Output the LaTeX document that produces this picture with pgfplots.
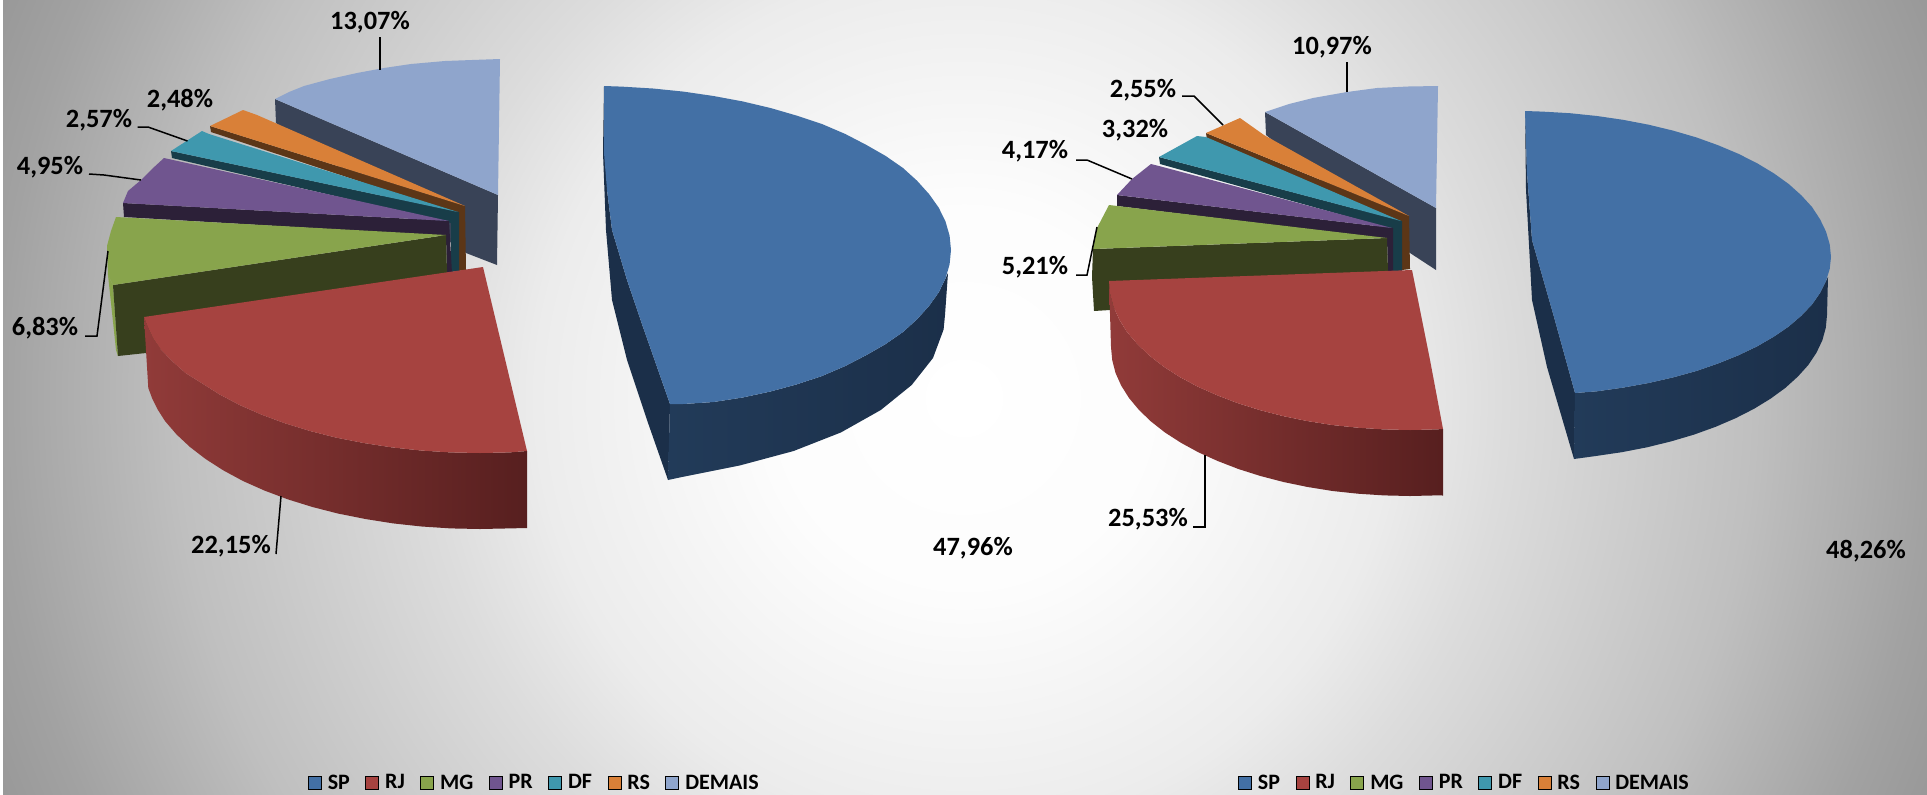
\documentclass[border=0pt]{standalone}
\usepackage{fontspec}
\setmainfont{Carlito}
\usepackage{pgfplots}
\pgfplotsset{compat=1.18}
\definecolor{cSP}{HTML}{4370A5}
\definecolor{cRJ}{HTML}{A64340}
\definecolor{cMG}{HTML}{88A44C}
\definecolor{cPR}{HTML}{70558F}
\definecolor{cDF}{HTML}{3F98AE}
\definecolor{cRS}{HTML}{D98038}
\definecolor{cDE}{HTML}{8FA5CC}
\definecolor{dSP}{HTML}{1B2F49}
\definecolor{dSPb}{HTML}{223B59}
\definecolor{dRJa}{HTML}{913B39}
\definecolor{dRJb}{HTML}{7A2F2E}
\definecolor{dRJc}{HTML}{571F1F}
\definecolor{dMG}{HTML}{373F1D}
\definecolor{dPR}{HTML}{2C2038}
\definecolor{dDF}{HTML}{183D49}
\definecolor{dRS}{HTML}{5C3617}
\definecolor{dDE}{HTML}{394357}
\pgfdeclareradialshading{bgshade}{\pgfpoint{0bp}{0bp}}{%
  color(0bp)=(white);
  color(4.5bp)=(white!99!black);
  color(9.75bp)=(white!92.5!black);
  color(12.2bp)=(white!86.5!black);
  color(17.95bp)=(white!75!black);
  color(21.95bp)=(white!63.5!black);
  color(25bp)=(white!57!black);
  color(50bp)=(white!57!black)}
\pgfplotsset{
  piepanel/.style={
    hide axis, scale only axis, clip=false, y dir=reverse,
    height=397pt, ymin=0, ymax=794,
    legend columns=7,
    legend cell align=left,
    legend style={draw=none, fill=none, font=\fontsize{11}{13}\selectfont\bfseries,
      anchor=west, inner sep=0pt, outer sep=0pt,
      nodes={inner sep=0pt, outer sep=0pt},
      /tikz/every odd column/.append style={column sep=3pt},
      /tikz/every even column/.append style={column sep=7.75pt}},
    legend image code/.code={\fill[##1] (0pt,-3.25pt) rectangle (6.5pt,3.25pt);},
  },
  top/.style={fill=#1, draw=none, forget plot},
  lead/.style={black, line width=0.75pt, forget plot},
}
\tikzset{lab/.style={font=\fontsize{13.2}{15}\selectfont\bfseries, inner sep=0pt}}
\begin{document}
\begin{tikzpicture}[x=1pt,y=1pt]
\path (0,0) rectangle (963.5,397);
\begin{scope}[overlay]
  \clip (1.5,0) rectangle (963.5,397);
  \shade[shading=bgshade] (482-550,198-550) rectangle (482+550,198+550);
\end{scope}

% ---------- left pie ----------
\begin{axis}[piepanel, at={(0,0)}, anchor=south west, width=482pt,
  xmin=0, xmax=964,
  legend style={at={(axis description cs:0.3195,0.0135)}}]
\addlegendimage{fill=cSP}\addlegendentry{SP}
\addlegendimage{fill=cRJ}\addlegendentry{RJ}
\addlegendimage{fill=cMG}\addlegendentry{MG}
\addlegendimage{fill=cPR}\addlegendentry{PR}
\addlegendimage{fill=cDF}\addlegendentry{DF}
\addlegendimage{fill=cRS}\addlegendentry{RS}
\addlegendimage{fill=cDE}\addlegendentry{DEMAIS}
% DEMAIS
\addplot[top=dDE] coordinates {(275,99)(498,195)(497,265)(466,253)(276,123)};
\addplot[top=cDE] coordinates {(275,99)(289,92)(304,86)(330,79)(357,73)(384,68)(411,64)(445,61)(472,60)(500,59)(498,195)};
% RS
\addplot[top=dRS] coordinates {(210,126)(465,206)(466,270)(458,271)(458,214)(211,132)};
\addplot[top=cRS] coordinates {(210,126)(243,110)(257,115)(465,206)};
% DF
\addplot[top=dDF] coordinates {(171,151)(172,158)(451,223)(451,272)(459,271)(459,212)};
\addplot[top=cDF] coordinates {(171,151)(202,131)(209,134)(458,212)};
% PR
\addplot[top=dPR] coordinates {(123,203)(124,217)(446,236)(447,273)(452,273)(449,221)};
\addplot[top=cPR] coordinates {(123,203)(128,191)(141,180)(152,169)(164,158)(449,221)};
% MG
\addplot[top=cMG] coordinates {(108,275)(113,285)(118,356)(116,350)};
\addplot[top=dMG] coordinates {(113,285)(446,235)(447,273)(146,353)(118,356)};
\addplot[top=cMG] coordinates {(116,217)(111,231)(107,246)(108,275)(113,285)(446,235)};
% RJ
\addplot[forget plot, draw=none, left color=dRJa, middle color=dRJb, right color=dRJc]
  coordinates {(144,317)(147.5,326)(153,338)(160.5,349)(172,361)(185.5,373)(201.5,383)(219.5,394.4)(239.6,405)(261.4,414.6)(285,423.3)(310,431)(336,437.6)(363.7,443)(392,447.4)(421,450.5)(450.4,452.4)(480,453)(509.6,452.4)(527,451)
   (527,528)(509,528.4)(480,529)(450.9,528.4)(421.7,526.5)(393.2,523.4)(365.4,519)(338.3,513.6)(312.5,507)(287.7,499.3)(264.6,490.6)(243,481)(223.4,470.4)(205.6,459)(190,447)(176.5,434.4)(165,421)(158,410)(152.4,399)(148.3,388)};
\addplot[top=cRJ] coordinates {(144,317)(147.5,326)(153,338)(160.5,349)(172,361)(185.5,373)(201.5,383)(219.5,394.4)(239.6,405)(261.4,414.6)(285,423.3)(310,431)(336,437.6)(363.7,443)(392,447.4)(421,450.5)(450.4,452.4)(480,453)(509.6,452.4)(527,451)(483,267)};
% SP
\addplot[top=dSP] coordinates {(604,86)(603,153)(606,230)(612,300)(627,360)(647,420)(668,480)(670,404)(643,327)(627,280)(612,230)(607,190)};
\addplot[forget plot, draw=none, left color=dSPb, right color=dSP]
  coordinates {(670,404)(683,404)(713.5,402)(742.6,397.5)(770.5,391.5)(797,384.3)(822,376)(845.3,366)(866.5,355)(885.7,344)(903,332)(917,319.3)(929,306)(938.7,292.4)(945.5,278.5)(948,273)
   (945,315)(943.6,329.5)(933,358)(911.7,385)(880.8,410)(841,432.4)(793.6,451)(740,465.4)(682,477)(668,480)};
\addplot[top=cSP] coordinates {(604,86)(621.5,86.6)(653,88.5)(683.4,91.6)(713.5,96)(742.6,101.4)(770.5,108)(797,115.7)(822,124)(845.3,134)(866.5,145)(885.7,156)(903,168)(917,180.7)(929,194)(938.7,207.6)(945.5,221.5)(949.6,235.7)(951,250)(949.6,264.3)(945.5,278.5)(938.7,292.4)(929,306)(917,319.3)(903,332)(885.7,344)(866.5,355)(845.3,366)(822,376)(797,384.3)(770.5,391.5)(742.6,397.5)(713.5,402)(683,404)(670,404)(643,327)(627,280)(612,230)(607,190)(604,153)};
% leaders
\addplot[lead] coordinates {(380,37)(380,70)};
\addplot[lead] coordinates {(137.5,127)(148,127)(187.5,141)};
\addplot[lead] coordinates {(89,174)(104,175)(141,180)};
\addplot[lead] coordinates {(85,336)(97,336)(108,251)};
\addplot[lead] coordinates {(276,554)(281,496)};
% labels
\node[lab] at (axis cs:370,22) {13,07\%};
\node[lab] at (axis cs:180,100) {2,48\%};
\node[lab] at (axis cs:99,120) {2,57\%};
\node[lab] at (axis cs:50,167) {4,95\%};
\node[lab] at (axis cs:45,328) {6,83\%};
\node[lab] at (axis cs:231,546) {22,15\%};
\node[lab] at (axis cs:973,548) {47,96\%};
\end{axis}

% ---------- right pie ----------
\begin{axis}[piepanel, at={(482pt,0)}, anchor=south west, width=481.5pt,
  xmin=964, xmax=1927,
  legend style={at={(axis description cs:0.2846,0.0135)}}]
\addlegendimage{fill=cSP}\addlegendentry{SP}
\addlegendimage{fill=cRJ}\addlegendentry{RJ}
\addlegendimage{fill=cMG}\addlegendentry{MG}
\addlegendimage{fill=cPR}\addlegendentry{PR}
\addlegendimage{fill=cDF}\addlegendentry{DF}
\addlegendimage{fill=cRS}\addlegendentry{RS}
\addlegendimage{fill=cDE}\addlegendentry{DEMAIS}
% DEMAIS
\addplot[top=dDE] coordinates {(1265,112)(1436,208)(1436,270)(1410,253)(1266,135)};
\addplot[top=cDE] coordinates {(1265,112)(1289,104)(1313,98)(1347,92)(1377,88)(1408,86.5)(1438,86)(1436,208)};
% RS
\addplot[top=dRS] coordinates {(1206,133)(1207,140)(1401,222)(1402,270)(1410,269)(1409,216)};
\addplot[top=cRS] coordinates {(1206,133)(1240,118)(1264,135)(1409,216)};
% DF
\addplot[top=dDF] coordinates {(1159,157)(1160,164)(1392,229)(1392,271)(1402,271)(1402,221)};
\addplot[top=cDF] coordinates {(1159,157)(1197,136)(1206,137)(1401,221)};
% PR
\addplot[top=dPR] coordinates {(1117,195)(1117,206)(1387,239)(1388,272)(1393,272)(1393,228)};
\addplot[top=cPR] coordinates {(1117,195)(1132,179)(1151,164)(1159,166)(1392,228)};
% MG
\addplot[top=dMG] coordinates {(1093,249)(1387,238)(1388,272)(1110,310)(1094,311)(1092,277)};
\addplot[top=cMG] coordinates {(1109,205)(1097,228)(1093,249)(1387,238)};
% RJ
\addplot[forget plot, draw=none, left color=dRJa, middle color=dRJb, right color=dRJc]
  coordinates {(1109,281)(1110.2,294)(1113.6,306.9)(1119.3,319.6)(1127,332)(1137.3,344)(1149.3,355.5)(1163.5,366.5)(1179.4,376.8)(1197.2,386.4)(1216.5,395)(1237.3,403)(1259.5,410)(1282.7,416)(1307,421)(1332,425)(1357.7,427.7)(1383.8,429.4)(1410,430)(1436,429.4)(1443,429)
   (1443,495.5)(1436,495.4)(1410,496)(1384,495.4)(1358,493.7)(1332.6,491)(1307.7,487)(1283.5,482)(1260.5,476)(1238.4,469)(1217.7,461)(1198.6,452.4)(1181,442.8)(1165,432.5)(1151,421.5)(1139,410)(1129,398)(1121.2,385.6)(1115.5,372.9)(1112.2,360)(1111,347)};
\addplot[top=cRJ] coordinates {(1109,281)(1110.2,294)(1113.6,306.9)(1119.3,319.6)(1127,332)(1137.3,344)(1149.3,355.5)(1163.5,366.5)(1179.4,376.8)(1197.2,386.4)(1216.5,395)(1237.3,403)(1259.5,410)(1282.7,416)(1307,421)(1332,425)(1357.7,427.7)(1383.8,429.4)(1410,430)(1436,429.4)(1443,429)(1430,360)(1420,310)(1412,270)};
% SP
\addplot[top=dSP] coordinates {(1525,111)(1526,190)(1532,300)(1547,367)(1574,459)(1575,393)(1554,317)(1532,240)(1527,173)};
\addplot[forget plot, draw=none, left color=dSPb, right color=dSP]
  coordinates {(1575,393)(1597,391.3)(1623,387.6)(1648.6,383)(1673,377.4)(1696.3,371)(1718,363.5)(1738.4,355.3)(1757,346.4)(1773.8,336.7)(1788.7,326.5)(1801.3,315.7)(1812,304.5)(1820,293)(1826,281)(1828,277)
   (1827,315)(1825.8,327.7)(1822.3,340.4)(1816.4,352.8)(1808.3,365)(1797.7,376.7)(1785.2,388)(1770.5,398.7)(1754,408.8)(1735.6,418.2)(1715.6,426.8)(1694,434.6)(1671,441.4)(1647,447.3)(1621.7,452.2)(1595.8,456)(1574,459)};
\addplot[top=cSP] coordinates {(1525,111)(1542.5,111.6)(1570,113.2)(1597,116)(1623,119.8)(1648.6,124.7)(1673,130.6)(1696.3,137.4)(1718,145.2)(1738.4,153.8)(1757,163.2)(1773.8,173.3)(1788.7,184)(1801.3,195.3)(1812,207)(1820,219.2)(1826,231.6)(1829.7,244.3)(1831,257)(1829.7,269)(1826,281)(1820,293)(1812,304.5)(1801.3,315.7)(1788.7,326.5)(1773.8,336.7)(1757,346.4)(1738.4,355.3)(1718,363.5)(1696.3,371)(1673,377.4)(1648.6,383)(1623,387.6)(1597,391.3)(1575,393)(1554,317)(1532,240)(1527,173)};
% leaders
\addplot[lead] coordinates {(1347,62)(1347,92)};
\addplot[lead] coordinates {(1182,96)(1194,96)(1223,125)};
\addplot[lead] coordinates {(1076,160)(1087,160)(1132,179)};
\addplot[lead] coordinates {(1076,275)(1087,275)(1097,227)};
\addplot[lead] coordinates {(1193,527)(1205,527)(1205,455)};
% labels
\node[lab] at (axis cs:1332,47) {10,97\%};
\node[lab] at (axis cs:1143,90) {2,55\%};
\node[lab] at (axis cs:1135,130) {3,32\%};
\node[lab] at (axis cs:1035,151) {4,17\%};
\node[lab] at (axis cs:1035,267) {5,21\%};
\node[lab] at (axis cs:1148,519) {25,53\%};
\node[lab] at (axis cs:1866,551) {48,26\%};
\end{axis}
\end{tikzpicture}
\end{document}
